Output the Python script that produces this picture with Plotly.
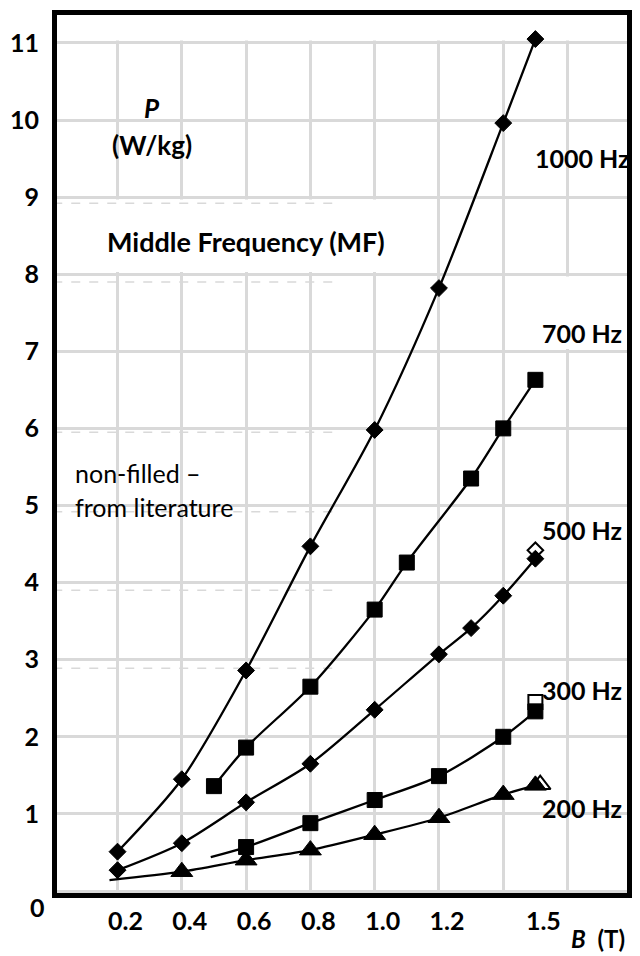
import plotly.graph_objects as go

# ---------------- data ----------------
B_1000 = [0.2, 0.4, 0.6, 0.8, 1.0, 1.2, 1.4, 1.5]
P_1000 = [0.51, 1.45, 2.86, 4.47, 5.98, 7.82, 9.96, 11.05]

B_700 = [0.5, 0.6, 0.8, 1.0, 1.1, 1.3, 1.4, 1.5]
P_700 = [1.36, 1.86, 2.65, 3.65, 4.26, 5.35, 6.00, 6.63]

B_500 = [0.2, 0.4, 0.6, 0.8, 1.0, 1.2, 1.3, 1.4, 1.5]
P_500 = [0.27, 0.62, 1.15, 1.65, 2.35, 3.07, 3.41, 3.83, 4.31]

B_300 = [0.6, 0.8, 1.0, 1.2, 1.4, 1.5]
P_300 = [0.57, 0.88, 1.18, 1.49, 2.00, 2.33]
B_300_curve = [0.49, 0.6, 0.8, 1.0, 1.2, 1.4, 1.5]
P_300_curve = [0.44, 0.57, 0.88, 1.18, 1.49, 2.00, 2.33]

B_200 = [0.4, 0.6, 0.8, 1.0, 1.2, 1.4, 1.5]
P_200 = [0.25, 0.40, 0.53, 0.73, 0.95, 1.25, 1.37]
B_200_curve = [0.175, 0.4, 0.6, 0.8, 1.0, 1.2, 1.4, 1.5]
P_200_curve = [0.14, 0.25, 0.40, 0.53, 0.73, 0.95, 1.25, 1.37]

# literature values (non-filled markers)
B_lit_500, P_lit_500 = [1.5], [4.42]
B_lit_300, P_lit_300 = [1.5], [2.45]
B_lit_200, P_lit_200 = [1.515], [1.38]

x_tick_vals = [0.2, 0.4, 0.6, 0.8, 1.0, 1.2, 1.5]
x_tick_text = ["0.2", "0.4", "0.6", "0.8", "1.0", "1.2", "1.5"]
x_grid_vals = [0.2, 0.4, 0.6, 0.8, 1.0, 1.2, 1.4, 1.6]
y_tick_vals = [0, 1, 2, 3, 4, 5, 6, 7, 8, 9, 10, 11]
y_tick_text = ["", "1", "2", "3", "4", "5", "6", "7", "8", "9", "10", "11"]
dashed_grid_levels = [2.89, 3.90, 4.92, 5.95, 7.90, 8.92]

freq_labels = ["1000 Hz", "700 Hz", "500 Hz", "300 Hz", "200 Hz"]
freq_label_y = [9.51, 7.24, 4.68, 2.61, 1.08]

# ---------------- figure ----------------
FONT = "Lato"
GRID = "#d9d9d9"
fig = go.Figure()

# open (literature) markers, drawn first so filled markers sit on top
for bx, py, sym, size in [(B_lit_500, P_lit_500, "diamond", 12),
                          (B_lit_300, P_lit_300, "square", 14),
                          (B_lit_200, P_lit_200, "triangle-up", 18)]:
    fig.add_trace(go.Scatter(x=bx, y=py, mode="markers",
                             marker=dict(symbol=sym, size=size, color="white",
                                         line=dict(color="black", width=2)),
                             showlegend=False, hoverinfo="skip"))

# curves
for bx, py in [(B_1000, P_1000), (B_700, P_700), (B_500, P_500),
               (B_300_curve, P_300_curve), (B_200_curve, P_200_curve)]:
    fig.add_trace(go.Scatter(x=bx, y=py, mode="lines",
                             line=dict(color="black", width=2.3, shape="spline", smoothing=0.8),
                             showlegend=False, hoverinfo="skip"))

# filled markers
for bx, py, sym, size in [(B_1000, P_1000, "diamond", 13),
                          (B_700, P_700, "square", 15),
                          (B_500, P_500, "diamond", 13),
                          (B_300, P_300, "square", 15),
                          (B_200, P_200, "triangle-up", 19)]:
    fig.add_trace(go.Scatter(x=bx, y=py, mode="markers",
                             marker=dict(symbol=sym, size=size, color="black",
                                         line=dict(color="black", width=1)),
                             showlegend=False))

shapes = []
# blank bands of the original (no grid)
for x0, x1, y0, y1 in [(0, 1.8, 11.03, 11.5), (0, 1.02, 8.03, 8.97), (1.41, 1.8, 7.03, 7.97)]:
    shapes.append(dict(type="rect", xref="x", yref="y", x0=x0, x1=x1, y0=y0, y1=y1,
                       fillcolor="white", line=dict(width=0), layer="between"))
# faint dashed duplicate grid lines
for lv in dashed_grid_levels:
    shapes.append(dict(type="line", xref="x", yref="y", x0=0.0, x1=0.894, y0=lv, y1=lv,
                       line=dict(color=GRID, width=1.5, dash="dash"), layer="between"))


def bfont(size):
    return dict(family=FONT, size=size, color="black", weight="bold")


annotations = []
common = dict(showarrow=False, xanchor="center", yanchor="middle")
annotations.append(dict(x=0.308, y=10.16, xref="x", yref="y", text="<i>P</i>",
                        font=bfont(26), **common))
annotations.append(dict(x=0.308, y=9.68, xref="x", yref="y", text="(W/kg)",
                        font=bfont(26), **common))
annotations.append(dict(x=0.60, y=8.42, xref="x", yref="y", text="Middle Frequency (MF)",
                        font=bfont(27), **common))
annotations.append(dict(x=0.061, y=5.42, xref="x", yref="y", text="non-filled –",
                        showarrow=False, xanchor="left", yanchor="middle",
                        font=dict(family=FONT, size=25, color="black")))
annotations.append(dict(x=0.061, y=4.98, xref="x", yref="y", text="from literature",
                        showarrow=False, xanchor="left", yanchor="middle",
                        font=dict(family=FONT, size=25, color="black")))
for txt, yy in zip(freq_labels, freq_label_y):
    annotations.append(dict(x=1.645, y=yy, xref="x", yref="y", text=txt,
                            font=bfont(25), **common))
annotations.append(dict(x=1.695, y=0, xref="x", yref="paper", yshift=-45,
                        text="<i>B</i>  (T)", font=bfont(24), **common))
annotations.append(dict(x=-0.035, y=0, xref="paper", yref="y", yshift=-16, text="0",
                        font=bfont(25), **common))

fig.update_layout(
    width=640, height=956,
    margin=dict(l=57, r=8, t=15, b=63),
    paper_bgcolor="white", plot_bgcolor="white",
    showlegend=False,
    shapes=shapes, annotations=annotations,
    xaxis=dict(range=[0.0117, 1.785], tickvals=x_tick_vals, ticktext=x_tick_text,
               showgrid=False, zeroline=False, ticks="",
               ticklabelshift=8, ticklabelstandoff=2,
               tickfont=bfont(25),
               minor=dict(tickvals=x_grid_vals, showgrid=True, gridcolor=GRID, gridwidth=2.5, ticks=""),
               showline=True, linecolor="black", linewidth=5, mirror=True),
    yaxis=dict(range=[-0.026, 11.362], tickvals=y_tick_vals, ticktext=y_tick_text,
               showgrid=True, gridcolor=GRID, gridwidth=2.5, zeroline=False, ticks="",
               ticklabelstandoff=8,
               tickfont=bfont(25),
               showline=True, linecolor="black", linewidth=5, mirror=True),
)

fig.write_html("out.html")
